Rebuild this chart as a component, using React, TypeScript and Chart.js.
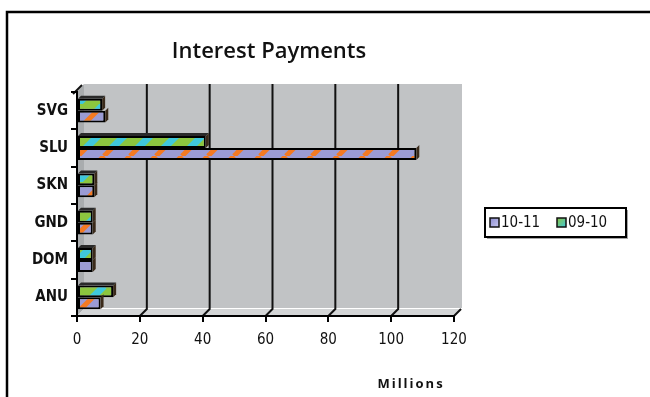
import { useEffect, useRef } from 'react';
import { Chart, registerables } from 'chart.js';

Chart.register(...registerables);

const categories = ['SVG', 'SLU', 'SKN', 'GND', 'DOM', 'ANU'];
const values0910 = [8, 41, 5.5, 5, 5, 11.5];
const values1011 = [9, 108, 5.5, 5, 5, 7.5];
const seriesNames = ['10-11', '09-10'];
const xTickValues = [0, 20, 40, 60, 80, 100, 120];
const titleText = 'Interest Payments';
const xAxisTitle = 'Millions';

const FONT = '"Open Sans", "DejaVu Sans", sans-serif';
const NARROW = '"DejaVu Sans Condensed", "Liberation Sans Narrow", "Open Sans", sans-serif';
const DEPTH = 7;

function stripePattern(base: string, stripe: string, period: number, width: number) {
  const c = document.createElement('canvas');
  c.width = period;
  c.height = period;
  const g = c.getContext('2d')!;
  g.fillStyle = base;
  g.fillRect(0, 0, period, period);
  g.strokeStyle = stripe;
  g.lineWidth = width;
  for (const o of [-period, 0, period]) {
    g.beginPath();
    g.moveTo(o, period);
    g.lineTo(o + period, 0);
    g.stroke();
  }
  return g.createPattern(c, 'repeat')!;
}

export default function App() {
  const ref = useRef<HTMLCanvasElement>(null);

  useEffect(() => {
    document.body.style.margin = '0';
    const canvas = ref.current!;
    const pat1011 = stripePattern('#9b9bd4', '#f47a22', 26, 5);
    const pat0910 = stripePattern('#8cc63f', '#3fc8dc', 26, 7);

    const backdrop = {
      id: 'backdrop',
      beforeDraw(chart: any) {
        const { ctx, chartArea: a, scales } = chart;
        const { left: L, right: R, top: T, bottom: B } = a;
        ctx.save();
        ctx.fillStyle = '#ffffff';
        ctx.fillRect(0, 0, chart.width, chart.height);
        ctx.strokeStyle = '#000';
        ctx.lineWidth = 2.5;
        ctx.beginPath();
        ctx.moveTo(7, chart.height + 2);
        ctx.lineTo(7, 12);
        ctx.lineTo(chart.width + 2, 12);
        ctx.stroke();
        ctx.fillStyle = '#c1c3c5';
        ctx.fillRect(L + DEPTH, T - DEPTH - 1, R - L + 1, B - T);
        ctx.fillStyle = '#a9acae';
        ctx.beginPath();
        ctx.moveTo(L, T);
        ctx.lineTo(L + DEPTH, T - DEPTH - 1);
        ctx.lineTo(L + DEPTH, B - DEPTH);
        ctx.lineTo(L, B);
        ctx.closePath();
        ctx.fill();
        ctx.fillStyle = '#d3d5d6';
        ctx.beginPath();
        ctx.moveTo(L, B);
        ctx.lineTo(L + DEPTH, B - DEPTH);
        ctx.lineTo(R + DEPTH + 1, B - DEPTH);
        ctx.lineTo(R, B);
        ctx.closePath();
        ctx.fill();
        const xs = scales.x;
        ctx.strokeStyle = '#111';
        ctx.lineWidth = 2;
        xTickValues.forEach((v, i) => {
          if (i === 0) return;
          const px = xs.getPixelForValue(v);
          ctx.beginPath();
          if (i < xTickValues.length - 1) {
            ctx.moveTo(px + DEPTH, T - DEPTH - 1);
            ctx.lineTo(px + DEPTH, B - DEPTH);
          } else {
            ctx.moveTo(px + DEPTH, B - DEPTH);
          }
          ctx.lineTo(px, B);
          ctx.stroke();
        });
        ctx.beginPath();
        ctx.moveTo(L - 4, T + 2);
        ctx.lineTo(L + DEPTH - 2, T - DEPTH);
        ctx.stroke();
        ctx.restore();
      },
    };

    const bar3d = {
      id: 'bar3d',
      afterDatasetsDraw(chart: any) {
        const { ctx } = chart;
        ctx.save();
        const d = 3;
        chart.data.datasets.forEach((_: any, di: number) => {
          const meta = chart.getDatasetMeta(di);
          meta.data.forEach((el: any) => {
            const top = el.y - el.height / 2;
            const bot = el.y + el.height / 2;
            const x = el.x;
            ctx.fillStyle = '#3a2a1a';
            ctx.beginPath();
            ctx.moveTo(x, top);
            ctx.lineTo(x + d, top - d);
            ctx.lineTo(x + d, bot - d);
            ctx.lineTo(x, bot);
            ctx.closePath();
            ctx.fill();
            if (di === 0) {
              ctx.fillStyle = '#2a2a2a';
              ctx.beginPath();
              ctx.moveTo(el.base, top);
              ctx.lineTo(el.base + d, top - d);
              ctx.lineTo(x + d, top - d);
              ctx.lineTo(x, top);
              ctx.closePath();
              ctx.fill();
            }
          });
        });
        ctx.restore();
      },
    };

    const overlay = {
      id: 'overlay',
      afterDraw(chart: any) {
        const { ctx, chartArea: a } = chart;
        ctx.save();
        ctx.fillStyle = '#111';
        ctx.textAlign = 'center';
        ctx.textBaseline = 'middle';
        ctx.font = `600 22px ${FONT}`;
        ctx.fillText(titleText, (a.left + a.right + DEPTH) / 2, 52);

        ctx.font = `bold 13px ${FONT}`;
        (ctx as any).letterSpacing = '2px';
        ctx.fillText(xAxisTitle, 411, 384);
        (ctx as any).letterSpacing = '0px';

        ctx.fillStyle = 'rgba(0,0,0,0.35)';
        ctx.fillRect(487, 210, 141, 29);
        ctx.fillStyle = '#fff';
        ctx.fillRect(485, 208, 141, 29);
        ctx.strokeStyle = '#000';
        ctx.lineWidth = 2;
        ctx.strokeRect(485, 208, 141, 29);
        const items = [
          { x: 490, label: seriesNames[0], fills: ['#8c8cd0', '#c8c8f0'] },
          { x: 557, label: seriesNames[1], fills: ['#8cc63f', '#3fc8dc'] },
        ];
        ctx.textAlign = 'left';
        ctx.font = `15px ${NARROW}`;
        items.forEach((it) => {
          const g = ctx.createLinearGradient(it.x, 218, it.x + 9, 227);
          g.addColorStop(0, it.fills[0]);
          g.addColorStop(1, it.fills[1]);
          ctx.fillStyle = g;
          ctx.fillRect(it.x, 218, 9, 9);
          ctx.lineWidth = 1.5;
          ctx.strokeStyle = '#111';
          ctx.strokeRect(it.x, 218, 9, 9);
          ctx.fillStyle = '#111';
          ctx.fillText(it.label, it.x + 11, 223);
        });
        ctx.restore();
      },
    };

    const chart = new Chart(canvas, {
      type: 'bar',
      data: {
        labels: categories,
        datasets: [
          {
            label: seriesNames[1],
            data: values0910,
            backgroundColor: pat0910,
            borderColor: '#000',
            borderWidth: 2,
            borderSkipped: false,
          },
          {
            label: seriesNames[0],
            data: values1011,
            backgroundColor: pat1011,
            borderColor: '#000',
            borderWidth: 2,
            borderSkipped: false,
          },
        ],
      },
      options: {
        indexAxis: 'y',
        responsive: false,
        animation: false,
        datasets: { bar: { categoryPercentage: 0.64, barPercentage: 1 } },
        layout: { padding: { left: 10, top: 92, right: 196, bottom: 0 } },
        plugins: {
          legend: { display: false },
          title: { display: false },
          tooltip: { enabled: false },
        },
        scales: {
          x: {
            min: 0,
            max: 120,
            afterFit(s: any) {
              s.height = 81;
            },
            afterBuildTicks(s: any) {
              s.ticks = xTickValues.map((v) => ({ value: v }));
            },
            grid: {
              drawOnChartArea: false,
              tickLength: 6,
              color: '#000',
              lineWidth: 2,
            },
            border: { display: true, color: '#000', width: 2 },
            ticks: {
              color: '#111',
              font: { family: NARROW, size: 15 },
              padding: 9,
              maxRotation: 0,
            },
          },
          y: {
            afterFit(s: any) {
              s.width = 67;
            },
            grid: {
              drawOnChartArea: false,
              offset: true,
              tickLength: 6,
              color: '#000',
              lineWidth: 2,
            },
            border: { display: true, color: '#000', width: 2 },
            ticks: {
              color: '#111',
              font: { family: NARROW, size: 15, weight: 'bold' },
              padding: 3,
            },
          },
        },
      },
      plugins: [backdrop, bar3d, overlay],
    });
    return () => chart.destroy();
  }, []);

  return <canvas ref={ref} width={650} height={397} style={{ display: 'block' }} />;
}
